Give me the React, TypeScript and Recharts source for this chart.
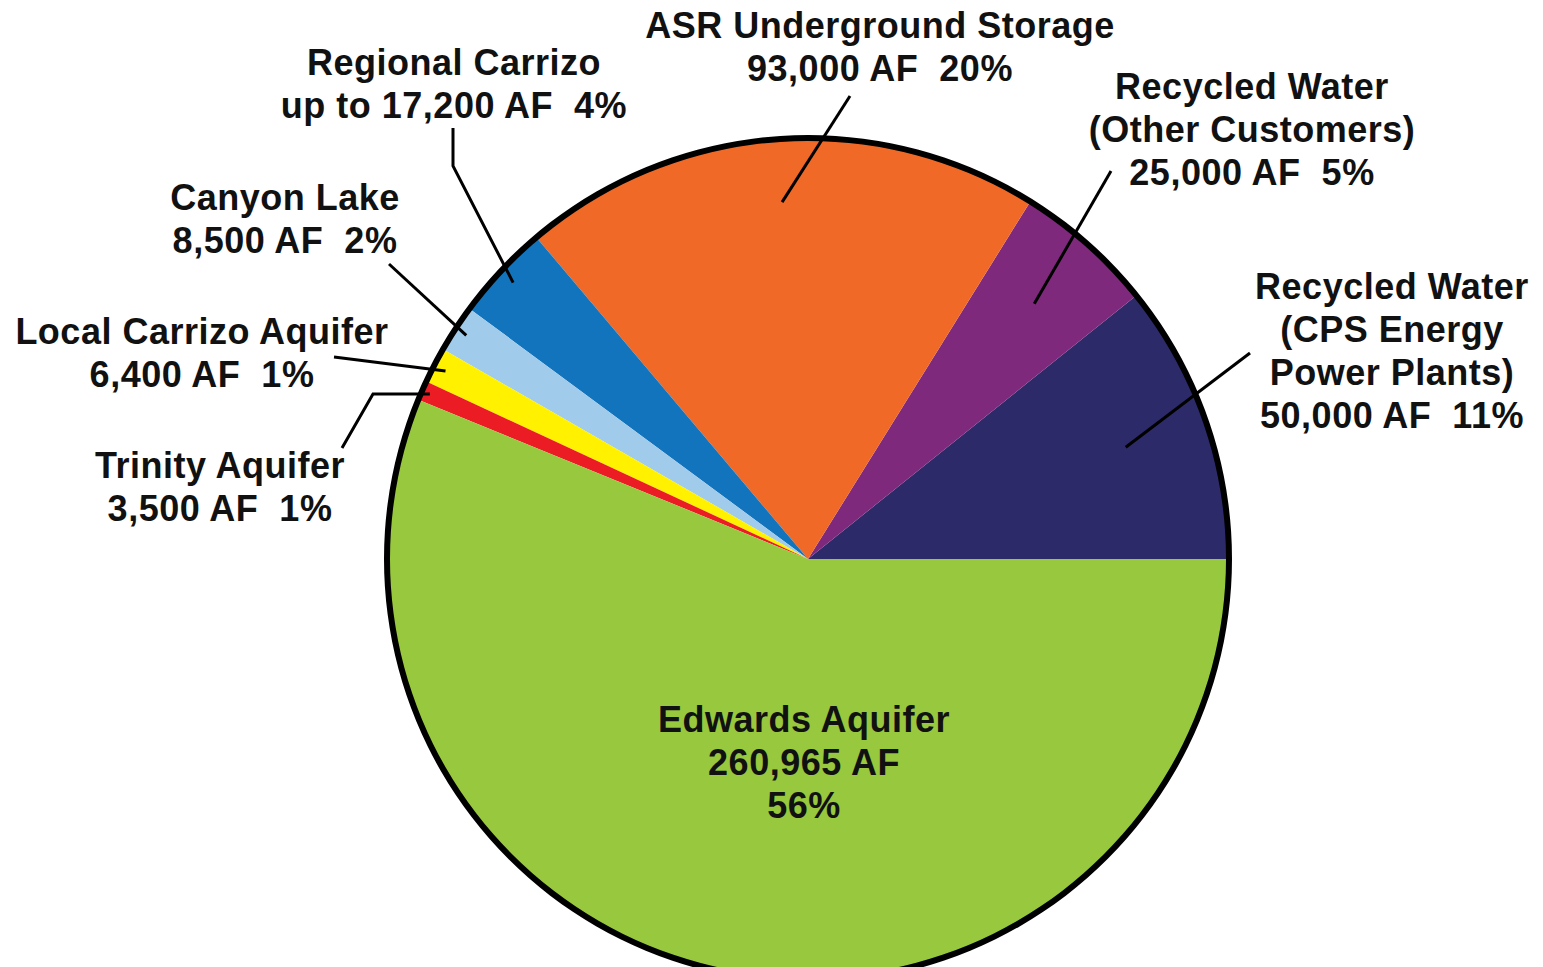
import { PieChart, Pie, Cell } from "recharts";

// slices, counter-clockwise from 3 o'clock
const sources = [
  "Recycled Water (CPS Energy Power Plants)",
  "Recycled Water (Other Customers)",
  "ASR Underground Storage",
  "Regional Carrizo",
  "Canyon Lake",
  "Local Carrizo Aquifer",
  "Trinity Aquifer",
  "Edwards Aquifer",
];
const acreFeet = [50000, 25000, 93000, 17200, 8500, 6400, 3500, 260965];
const labelText: string[][] = [
  ["Recycled Water", "(CPS Energy", "Power Plants)", "50,000 AF  11%"],
  ["Recycled Water", "(Other Customers)", "25,000 AF  5%"],
  ["ASR Underground Storage", "93,000 AF  20%"],
  ["Regional Carrizo", "up to 17,200 AF  4%"],
  ["Canyon Lake", "8,500 AF  2%"],
  ["Local Carrizo Aquifer", "6,400 AF  1%"],
  ["Trinity Aquifer", "3,500 AF  1%"],
  ["Edwards Aquifer", "260,965 AF", "56%"],
];

const colors = [
  "#2d2a6a",
  "#7f297c",
  "#f06927",
  "#1274bc",
  "#a1cbeb",
  "#fff100",
  "#ec1c24",
  "#97c83d",
];

// label placement, offsets from pie centre in px
// pts: leader line points from the text end, last point goes to r * radius on slice middle
type Place = { tx: number; ty: number; pts: number[][]; r: number; elbow?: number };
const placement: Place[] = [
  { tx: 584, ty: -260, pts: [[442, -206]], r: 0.8 },
  { tx: 444, ty: -460, pts: [[303, -388]], r: 0.81 },
  { tx: 72, ty: -521, pts: [[42, -463]], r: 0.85 },
  { tx: -354, ty: -484, pts: [[-355, -431], [-355, -393]], r: 0.96 },
  { tx: -523, ty: -349, pts: [[-419, -295]], r: 0.97 },
  { tx: -606, ty: -215, pts: [[-474, -202]], r: 0.97 },
  { tx: -588, ty: -81, pts: [[-466, -111]], r: 0.98, elbow: -435 },
  { tx: -4, ty: 173, pts: [], r: 0 },
];

const data = sources.map((name, i) => ({ name, value: acreFeet[i] }));

const W = 1543;
const H = 967;
const CX = 808;
const CY = 559;
const R = 421;
const RAD = Math.PI / 180;
const LINE_H = 43;

function renderLabel(props: any) {
  const { cx, cy, midAngle, outerRadius, index } = props;
  const p = placement[index];
  const lines = labelText[index];
  let poly = "";
  if (p.pts.length) {
    const ix = cx + outerRadius * p.r * Math.cos(-midAngle * RAD);
    const iy = cy + outerRadius * p.r * Math.sin(-midAngle * RAD);
    const pts = p.pts.map(([x, y]) => [cx + x, cy + y]);
    if (p.elbow !== undefined) pts.push([cx + p.elbow, iy]);
    pts.push([ix, iy]);
    poly = pts.map((q) => q.join(",")).join(" ");
  }
  return (
    <g key={`lbl-${index}`}>
      {poly && <polyline points={poly} fill="none" stroke="#000" strokeWidth={3} />}
      <text
        x={cx + p.tx}
        y={cy + p.ty}
        textAnchor="middle"
        fill="#111"
        fontFamily="'Liberation Sans', Arial, sans-serif"
        fontWeight="bold"
        fontSize={36}
        letterSpacing={0.5}
        style={{ whiteSpace: "pre" }}
      >
        {lines.map((t, k) => (
          <tspan key={k} x={cx + p.tx} dy={k === 0 ? 0 : LINE_H}>
            {t}
          </tspan>
        ))}
      </text>
    </g>
  );
}

export default function App() {
  return (
    <div style={{ position: "absolute", top: 0, left: 0, width: W, height: H, background: "#fff" }}>
      <PieChart width={W} height={H} margin={{ top: 0, right: 0, bottom: 0, left: 0 }}>
        <Pie
          data={data}
          dataKey="value"
          cx={CX}
          cy={CY}
          outerRadius={R}
          startAngle={0}
          endAngle={360}
          stroke="none"
          label={renderLabel}
          labelLine={false}
          isAnimationActive={false}
        >
          {data.map((d, i) => (
            <Cell key={d.name} fill={colors[i]} stroke="none" />
          ))}
        </Pie>
        <Pie
          data={[{ name: "rim", value: 1 }]}
          dataKey="value"
          cx={CX}
          cy={CY}
          innerRadius={R - 3}
          outerRadius={R + 3}
          startAngle={0}
          endAngle={360}
          fill="#000"
          stroke="none"
          isAnimationActive={false}
        />
      </PieChart>
    </div>
  );
}
